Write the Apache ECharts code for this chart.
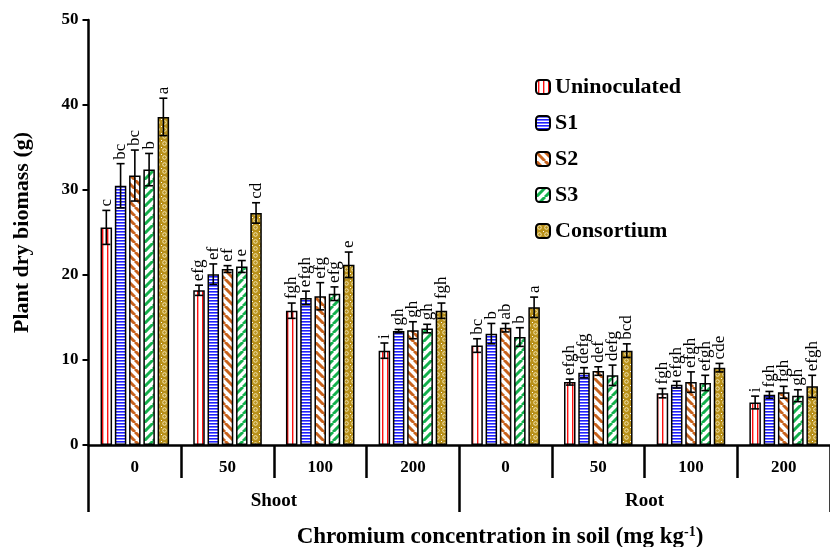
<!DOCTYPE html>
<html>
<head>
<meta charset="utf-8">
<script src="https://cdn.jsdelivr.net/npm/echarts@6/dist/echarts.min.js"></script>
<style>
html,body{margin:0;padding:0;background:#fff;}
#chart{width:830px;height:547px;}
</style>
</head>
<body>
<div id="chart"></div>
<script>
// ---- data ----
const concentrations = ['0', '50', '100', '200', '0', '50', '100', '200'];
const plantParts = ['Shoot', 'Root'];
const treatments = ['Uninoculated', 'S1', 'S2', 'S3', 'Consortium'];

const uninoculated = [25.6, 18.2, 15.8, 11.1, 11.7, 7.4, 6.1, 5.0];
const s1 = [30.5, 20.1, 17.3, 13.4, 13.1, 8.5, 7.1, 5.9];
const s2 = [31.7, 20.7, 17.5, 13.5, 13.8, 8.7, 7.4, 6.2];
const s3 = [32.4, 21.0, 17.8, 13.7, 12.7, 8.2, 7.3, 5.8];
const consortium = [38.6, 27.3, 21.2, 15.8, 16.2, 11.1, 9.1, 6.9];

const errUninoculated = [2.0, 0.6, 0.9, 0.9, 0.8, 0.35, 0.55, 0.75];
const errS1 = [2.6, 1.2, 0.8, 0.2, 1.2, 0.6, 0.4, 0.4];
const errS2 = [3.0, 0.4, 1.6, 1.0, 0.5, 0.5, 1.2, 0.7];
const errS3 = [1.9, 0.7, 0.8, 0.5, 1.1, 1.2, 0.9, 0.7];
const errConsortium = [2.2, 1.2, 1.5, 0.9, 1.2, 0.8, 0.5, 1.3];

const letUninoculated = ['c', 'efg', 'fgh', 'i', 'bc', 'efgh', 'fgh', 'i'];
const letS1 = ['bc', 'ef', 'efgh', 'gh', 'b', 'defg', 'efgh', 'fgh'];
const letS2 = ['bc', 'ef', 'efg', 'gh', 'ab', 'def', 'efgh', 'fgh'];
const letS3 = ['b', 'e', 'efg', 'gh', 'b', 'defg', 'efgh', 'gh'];
const letConsortium = ['a', 'cd', 'e', 'fgh', 'a', 'bcd', 'cde', 'efgh'];

const yTicks = [0, 10, 20, 30, 40, 50];

// ---- styles ----
const FONT = "'Times New Roman', 'Liberation Serif', serif";
const values = [uninoculated, s1, s2, s3, consortium];
const errors = [errUninoculated, errS1, errS2, errS3, errConsortium];
const letters = [letUninoculated, letS1, letS2, letS3, letConsortium];

function makePattern(w, h, draw) {
  const c = document.createElement('canvas');
  c.width = w; c.height = h;
  const ctx = c.getContext('2d');
  ctx.fillStyle = '#ffffff';
  ctx.fillRect(0, 0, w, h);
  draw(ctx, w, h);
  return { image: c, repeat: 'repeat' };
}
const patterns = [
  makePattern(5, 5, (ctx) => { ctx.fillStyle = '#ff1010'; ctx.fillRect(2, 0, 1.4, 5); }),
  makePattern(5, 3, (ctx) => { ctx.fillStyle = '#1f1fff'; ctx.fillRect(0, 0, 5, 1.6); }),
  makePattern(9, 9, (ctx, w) => {
    ctx.strokeStyle = '#c8621c'; ctx.lineWidth = 3;
    for (let x = -w; x <= w; x += w) { ctx.beginPath(); ctx.moveTo(x, 0); ctx.lineTo(x + w, w); ctx.stroke(); }
  }),
  makePattern(9, 9, (ctx, w) => {
    ctx.strokeStyle = '#13b04c'; ctx.lineWidth = 3;
    for (let x = -w; x <= w; x += w) { ctx.beginPath(); ctx.moveTo(x, w); ctx.lineTo(x + w, 0); ctx.stroke(); }
  }),
  makePattern(7, 7, (ctx) => {
    ctx.fillStyle = '#b8901a'; ctx.fillRect(0, 0, 7, 7);
    ctx.strokeStyle = '#f4e6b0'; ctx.lineWidth = 1;
    ctx.beginPath(); ctx.arc(3.5, 3.5, 1.8, 0, Math.PI * 2); ctx.stroke();
    ctx.fillStyle = '#ffffff'; ctx.fillRect(0, 0, 1, 1);
  })
];

const BAR_W = 11.5;
const BAR_GAP = 0.24;
const STEP = BAR_W * (1 + BAR_GAP);

const series = [];
treatments.forEach((name, i) => {
  series.push({
    name: name,
    type: 'bar',
    xAxisIndex: 0,
    barWidth: BAR_W,
    barGap: (BAR_GAP * 100) + '%',
    data: values[i],
    itemStyle: { color: patterns[i], borderColor: '#000', borderWidth: 1.5 },
    emphasis: { disabled: true },
    z: 2
  });
});
treatments.forEach((name, i) => {
  series.push({
    name: name + ' error',
    type: 'custom',
    xAxisIndex: 0,
    data: values[i].map((v, k) => [k, v, errors[i][k], letters[i][k]]),
    z: 5,
    renderItem: function (params, api) {
      const k = api.value(0);
      const v = api.value(1);
      const e = api.value(2);
      const txt = letters[i][k];
      const top = api.coord([k, v + e]);
      const bot = api.coord([k, v - e]);
      const x = top[0] + (i - 2) * STEP;
      const cap = 4;
      const st = { stroke: '#000', lineWidth: 1.6 };
      return {
        type: 'group',
        children: [
          { type: 'line', shape: { x1: x, y1: top[1], x2: x, y2: bot[1] }, style: st },
          { type: 'line', shape: { x1: x - cap, y1: top[1], x2: x + cap, y2: top[1] }, style: st },
          { type: 'line', shape: { x1: x - cap, y1: bot[1], x2: x + cap, y2: bot[1] }, style: st },
          {
            type: 'text', x: x, y: top[1] - 4, rotation: Math.PI / 2,
            style: { text: txt, fill: '#000', font: '17px ' + FONT, align: 'left', verticalAlign: 'middle' }
          }
        ]
      };
    }
  });
});

const chart = echarts.init(document.getElementById('chart'), null, { renderer: 'canvas' });
chart.setOption({
  animation: false,
  backgroundColor: '#ffffff',
  grid: { left: 88.5, top: 20, width: 754.5, height: 425, containLabel: false },
  legend: {
    data: treatments,
    orient: 'vertical',
    left: 535,
    top: 76,
    padding: 0,
    itemWidth: 14,
    itemHeight: 14,
    itemGap: 14,
    selectedMode: false,
    textStyle: { fontFamily: FONT, fontWeight: 'bold', fontSize: 22, color: '#000', padding: [0, 0, 0, 0] }
  },
  xAxis: [
    {
      type: 'category',
      data: concentrations,
      position: 'bottom',
      axisLine: { show: true, lineStyle: { color: '#000', width: 2.5 } },
      axisTick: { show: true, length: 33, interval: 0, lineStyle: { color: '#000', width: 2.5 } },
      axisLabel: { interval: 0, margin: 14, fontFamily: FONT, fontWeight: 'bold', fontSize: 17, color: '#000' },
      splitLine: { show: false }
    },
    {
      type: 'category',
      data: plantParts,
      position: 'bottom',
      axisLine: { show: false },
      axisTick: { show: true, length: 67, interval: 0, lineStyle: { color: '#000', width: 2.5 } },
      axisLabel: { interval: 0, margin: 47, fontFamily: FONT, fontWeight: 'bold', fontSize: 19, color: '#000' },
      splitLine: { show: false }
    }
  ],
  yAxis: {
    type: 'value',
    min: yTicks[0],
    max: yTicks[yTicks.length - 1],
    interval: 10,
    name: 'Plant dry biomass (g)',
    nameLocation: 'middle',
    nameGap: 55,
    nameRotate: 90,
    nameTextStyle: { fontFamily: FONT, fontWeight: 'bold', fontSize: 22, color: '#000' },
    axisLine: { show: true, lineStyle: { color: '#000', width: 2.5 } },
    axisTick: { show: true, inside: false, length: 6, lineStyle: { color: '#000', width: 2 } },
    axisLabel: { margin: 10, fontFamily: FONT, fontWeight: 'bold', fontSize: 17, color: '#000' },
    splitLine: { show: false }
  },
  graphic: [
    {
      type: 'text',
      x: 500,
      y: 537,
      style: {
        text: 'Chromium concentration in soil (mg kg{sup|-1})',
        font: 'bold 23px ' + FONT,
        fill: '#000',
        align: 'center',
        verticalAlign: 'middle',
        rich: { sup: { fontSize: 14, fontWeight: 'bold', fontFamily: FONT, verticalAlign: 'top', padding: [0, 0, 9, 0] } }
      }
    }
  ],
  series: series
});
</script>
</body>
</html>
